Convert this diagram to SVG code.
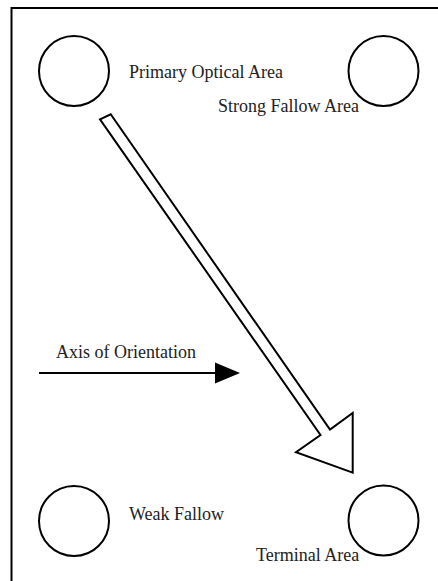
<svg xmlns="http://www.w3.org/2000/svg" width="438" height="581" viewBox="0 0 438 581">
<style>
.n{fill:none;stroke:#000;stroke-width:2}
text{font-family:'Liberation Serif','Times New Roman',serif;font-size:18px;fill:#222}
</style>
<rect x="0" y="0" width="438" height="581" fill="#fff"/>
<rect x="11.5" y="8" width="440" height="600" fill="none" stroke="#000" stroke-width="2"/>
<g id="primary"><circle class="n" cx="74" cy="71" r="35"/><text x="129" y="78">Primary Optical Area</text></g>
<g id="strong"><circle class="n" cx="383.5" cy="71" r="35"/><text x="218" y="112">Strong Fallow Area</text></g>
<g id="weak"><circle class="n" cx="74" cy="521" r="35"/><text x="129" y="520">Weak Fallow</text></g>
<g id="terminal"><circle class="n" cx="383.5" cy="520.5" r="35"/><text x="256" y="561">Terminal Area</text></g>
<g id="connectors">
<polygon points="100,119.3 110.7,114.3 330,429.5 352.7,413 352.7,472.7 296,452.3 320.5,435" fill="#fff" stroke="#000" stroke-width="2" stroke-linejoin="miter"/>
<line x1="39" y1="373" x2="216" y2="373" stroke="#000" stroke-width="2"/>
<polygon points="215,362.5 240,373 215,383.5" fill="#000"/>
<text x="56" y="358">Axis of Orientation</text>
</g>
</svg>
